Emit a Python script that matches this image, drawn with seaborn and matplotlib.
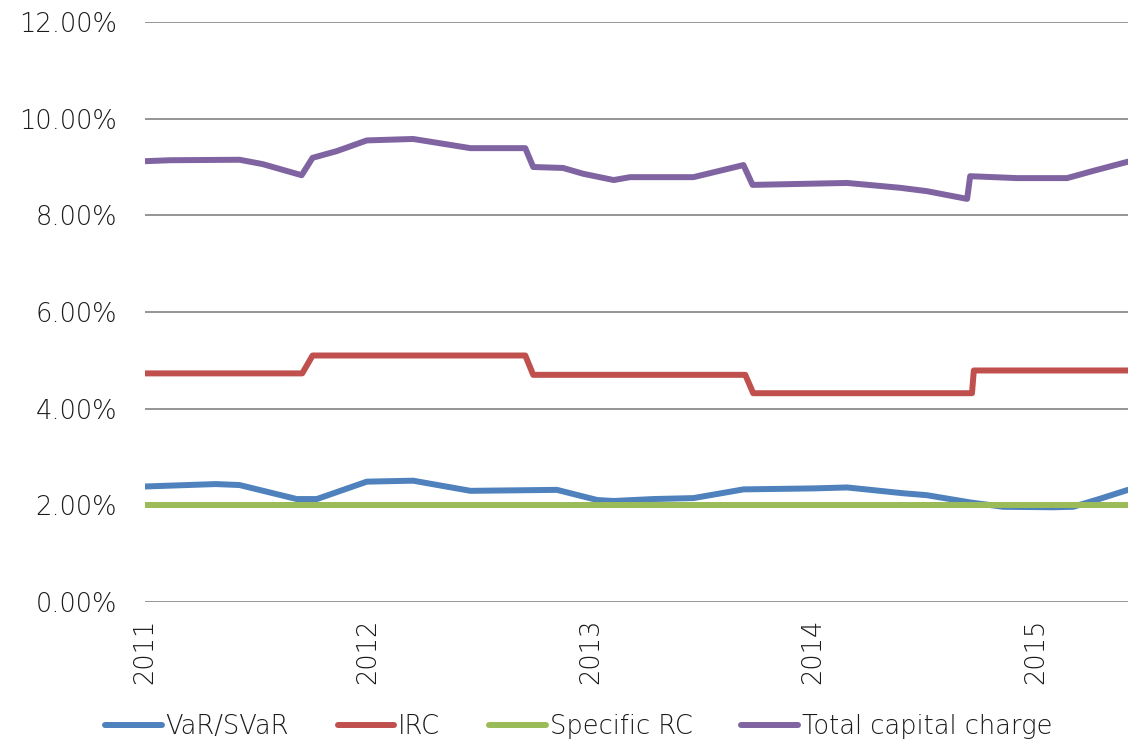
import pandas as pd
import seaborn as sns
import matplotlib.pyplot as plt
import matplotlib as mpl

# Series (values in %)
var_dates = ["2011-01-01", "2011-04-27", "2011-06-05", "2011-09-07", "2011-10-10",
             "2011-12-31", "2012-03-16", "2012-06-18", "2012-11-07", "2013-01-12",
             "2013-02-08", "2013-04-14", "2013-06-19", "2013-09-09", "2014-01-01",
             "2014-02-26", "2014-05-29", "2014-07-07", "2014-09-16", "2014-11-09",
             "2015-01-30", "2015-03-04", "2015-04-13", "2015-06-02"]
var_values = [2.39, 2.44, 2.42, 2.13, 2.13,
              2.49, 2.51, 2.30, 2.32, 2.11,
              2.09, 2.13, 2.15, 2.33, 2.35,
              2.37, 2.25, 2.21, 2.06, 1.97,
              1.96, 1.97, 2.12, 2.32]

irc_dates = ["2011-01-01", "2011-09-16", "2011-10-03", "2012-09-16", "2012-09-29",
             "2013-09-12", "2013-09-25", "2014-09-19", "2014-09-22", "2015-06-02"]
irc_values = [4.73, 4.73, 5.10, 5.10, 4.70,
              4.70, 4.32, 4.32, 4.79, 4.79]

src_dates = ["2011-01-01", "2015-06-02"]
src_values = [2.00, 2.00]

total_dates = ["2011-01-01", "2011-02-11", "2011-06-05", "2011-07-13", "2011-09-15",
               "2011-10-03", "2011-11-12", "2011-12-31", "2012-03-16", "2012-06-18",
               "2012-09-16", "2012-09-29", "2012-11-17", "2012-12-20", "2013-02-08",
               "2013-03-07", "2013-04-21", "2013-06-19", "2013-09-09", "2013-09-24",
               "2014-02-26", "2014-05-24", "2014-07-07", "2014-09-11", "2014-09-16",
               "2014-12-02", "2015-02-22", "2015-04-06", "2015-06-02"]
total_values = [9.12, 9.14, 9.15, 9.06, 8.83,
                9.19, 9.33, 9.55, 9.58, 9.39,
                9.39, 9.00, 8.98, 8.86, 8.73,
                8.79, 8.79, 8.79, 9.04, 8.63,
                8.67, 8.57, 8.50, 8.34, 8.81,
                8.77, 8.77, 8.92, 9.11]

series_names = ["VaR/SVaR", "IRC", "Specific RC", "Total capital charge"]
colors = ["#4F81BD", "#C0504D", "#9BBB59", "#8064A2"]
year_ticks = ["2011", "2012", "2013", "2014", "2015"]

frames = []
for name, d, v in zip(series_names,
                      [var_dates, irc_dates, src_dates, total_dates],
                      [var_values, irc_values, src_values, total_values]):
    frames.append(pd.DataFrame({"date": pd.to_datetime(d), "value": v, "series": name}))
df = pd.concat(frames, ignore_index=True)

sns.set_style("white")
plt.rcParams["font.family"] = ["DejaVu Sans"]
plt.rcParams["font.weight"] = "light"
txt = "#1a1a1a"

fig = plt.figure(figsize=(11.28, 7.43), dpi=100)
ax = fig.add_axes([145 / 1128, 141 / 743, 1 - 145 / 1128, 580 / 743])

sns.lineplot(data=df, x="date", y="value", hue="series", hue_order=series_names,
             palette=colors, estimator=None, linewidth=4.3, ax=ax,
             solid_capstyle="round", solid_joinstyle="round")

ax.set_ylim(0, 12)
ax.set_yticks([0, 2, 4, 6, 8, 10, 12])
ax.yaxis.set_major_formatter(mpl.ticker.FuncFormatter(lambda v, p: f"{v:.2f}%"))
ax.set_xlim(pd.Timestamp("2011-01-01"), pd.Timestamp("2015-06-02"))
ax.set_xticks(pd.to_datetime([y + "-01-01" for y in year_ticks]))
ax.set_xticklabels(year_ticks, rotation=90)
ax.set_xlabel("")
ax.set_ylabel("")
ax.yaxis.grid(True, color="#8C8C8C", linewidth=1.3)
ax.set_axisbelow(True)
for s in ax.spines.values():
    s.set_visible(False)
ax.tick_params(axis="y", length=0, pad=20, labelsize=18.5, labelcolor=txt)
ax.tick_params(axis="x", length=0, pad=12, labelsize=18.5, labelcolor=txt)

handles, labels = ax.get_legend_handles_labels()
ax.get_legend().remove()
fig.legend(handles, labels, loc="center", bbox_to_anchor=(0.513, 0.022), ncol=4,
           frameon=False, fontsize=18.5, handlelength=2.2, handletextpad=0.15,
           columnspacing=1.9, labelcolor=txt)

fig.savefig("out.png", dpi=100)
